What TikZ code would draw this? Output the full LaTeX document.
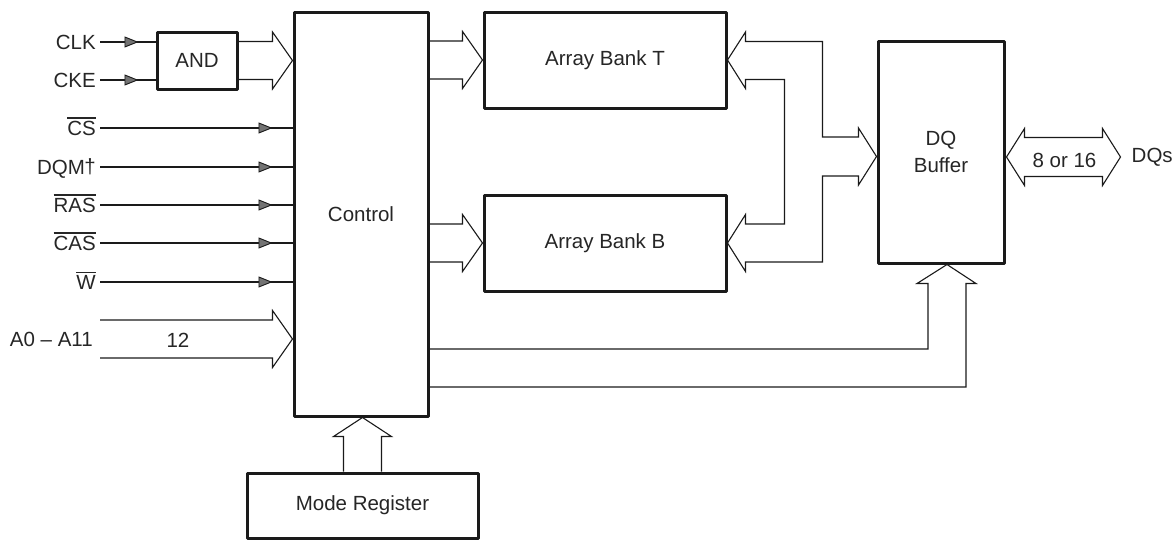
\documentclass[tikz,border=0pt]{standalone}
\usepackage{fontspec}
\setmainfont{Liberation Sans}
\usetikzlibrary{arrows.meta,calc,decorations.markings}

% overlined signal name (active-low)
\newcommand\actlow[1]{\leavevmode\vbox{\hrule height 1.8pt\kern 2pt\hbox{#1}}}

\definecolor{ink}{HTML}{1A1A1A}
\definecolor{txt}{HTML}{262626}

\tikzset{
  block/.style={draw=ink, line width=3pt, line join=round, fill=white,
    inner sep=0pt, text=txt, align=center},
  siglabel/.style={anchor=east, inner xsep=4pt, inner ysep=0pt,
    text height=15pt, text depth=0pt, text=txt},
  plain/.style={text=txt, inner sep=0pt},
  bus/.style={draw=ink, line width=1.1pt, line join=miter},
  sigtip/.style={
    postaction={decorate},
    decoration={markings, mark=at position #1 with
      {\arrow[draw=ink, line width=0.9pt]{Triangle[length=14pt,width=11pt,fill=black!55]}}}},
  sigline/.style={draw=ink, line width=1.1pt, sigtip=-20pt},
}

% wide bus arrow pointing right: tail centre #1, tip #2
\newcommand\busright[2]{%
  \draw[bus] ($(#1)+(0,-19)$) -- ($(#2)+(-20,-19)$) -- ($(#2)+(-20,-28.5)$)
    -- (#2) -- ($(#2)+(-20,28.5)$) -- ($(#2)+(-20,19)$) -- ($(#1)+(0,19)$);}
% wide bus arrow pointing up: tail centre #1, tip #2
\newcommand\busup[2]{%
  \draw[bus] ($(#1)+(-19,0)$) -- ($(#2)+(-19,19)$) -- ($(#2)+(-29,19)$)
    -- (#2) -- ($(#2)+(29,19)$) -- ($(#2)+(19,19)$) -- ($(#1)+(19,0)$);}

\begin{document}
\begin{tikzpicture}[x=1pt, y=-1pt, font=\fontsize{20.5}{24}\selectfont]
\useasboundingbox (0,0) rectangle (1176,541);

% main blocks
\node[block, minimum width=80pt,  minimum height=57pt]  (and)   at (197,60.5)   {AND};
\node[block, minimum width=134pt, minimum height=404pt] (ctrl)  at (361,214)    {Control};
\node[block, minimum width=242pt, minimum height=96pt]  (bankT) at (605,60)     {Array Bank T};
\node[block, minimum width=242pt, minimum height=96pt]  (bankB) at (605,243)    {Array Bank B};
\node[block, minimum width=126pt, minimum height=222pt] (dq)    at (941,152)    {DQ\\[3pt]Buffer};
\node[block, minimum width=231pt, minimum height=65pt]  (mode)  at (362.5,505.5){Mode Register};

% clock inputs into the AND gate
\node[siglabel] (clk) at (100,42) {CLK};
\node[siglabel] (cke) at (100,80) {CKE};
\draw[draw=ink, line width=1.1pt, sigtip=-17pt] (clk.east) -- (and.west |- clk.east);
\draw[draw=ink, line width=1.1pt, sigtip=-17pt] (cke.east) -- (and.west |- cke.east);

% control inputs
\node[siglabel] (cs)  at (100,128) {\actlow{CS}};
\node[siglabel] (dqm) at (100,167) {DQM\kern-0.5pt\raisebox{1.5pt}{†}};
\node[siglabel] (ras) at (100,205) {\actlow{RAS}};
\node[siglabel] (cas) at (100,243) {\actlow{CAS}};
\node[siglabel] (w)   at (100,282) {\actlow{W}};
\foreach \s in {cs,dqm,ras,cas,w}
  \draw[sigline] (\s.east) -- (ctrl.west |- \s.east);

% address bus
\node[siglabel, inner xsep=7pt] (addr) at (100,339) {A0 – A11};
\node[plain] (width12) at (178,340) {12};
\coordinate (addrtail) at (100,339);
\busright{addrtail}{ctrl.west |- addrtail}

% AND gate output into control
\busright{and.east}{ctrl.west |- and.east}

% control to the two array banks
\busright{ctrl.east |- bankT.west}{bankT.west}
\busright{ctrl.east |- bankB.west}{bankB.west}

% mode register into control
\busup{mode.north}{ctrl.south -| mode.north}

% shared data bus between the banks and the DQ buffer
\coordinate (dqin) at ($(dq.west)+(0,4.5)$);
\draw[bus] ($(bankT.east)+(18,-18.5)$) -- ($(bankT.east)+(95,-18.5)$)
  |- ($(dqin)+(-18,-19.5)$) -- ($(dqin)+(-18,-28.5)$) -- (dqin)
  -- ($(dqin)+(-18,28.5)$) -- ($(dqin)+(-18,19.5)$) -| ($(bankB.east)+(95,19)$)
  -- ($(bankB.east)+(18,19)$) -- ($(bankB.east)+(18,28.5)$) -- (bankB.east)
  -- ($(bankB.east)+(18,-28.5)$) -- ($(bankB.east)+(18,-19)$)
  -- ($(bankB.east)+(57,-19)$) |- ($(bankT.east)+(18,19.5)$)
  -- ($(bankT.east)+(18,28.5)$) -- (bankT.east) -- ($(bankT.east)+(18,-28)$)
  -- cycle;

% external data pins
\coordinate (dqout) at ($(dq.east)+(1,5)$);
\coordinate (dqstip) at ($(dqout)+(114,0)$);
\draw[bus] (dqout) -- ($(dqout)+(18,-28.5)$) -- ($(dqout)+(18,-19.5)$)
  -- ($(dqstip)+(-18,-19.5)$) -- ($(dqstip)+(-18,-28.5)$) -- (dqstip)
  -- ($(dqstip)+(-18,28.5)$) -- ($(dqstip)+(-18,19.5)$)
  -- ($(dqout)+(18,19.5)$) -- ($(dqout)+(18,28.5)$) -- cycle;
\node[plain] (dqwidth) at ($(dqout)!0.5!(dqstip)+(1,3)$) {8 or 16};
\node[plain, anchor=west] (dqs) at ($(dqstip)+(11,0)$) {DQs};

% control outputs to the DQ buffer
\coordinate (dqbot) at ($(dq.south)+(6,0)$);
\draw[bus] ($(ctrl.east)+(0,135)$) -| ($(dqbot)+(-19,19)$) -- ($(dqbot)+(-30,19)$)
  -- (dqbot) -- ($(dqbot)+(29,19)$) -- ($(dqbot)+(19,19)$) |- ($(ctrl.east)+(0,173)$);
\end{tikzpicture}
\end{document}
